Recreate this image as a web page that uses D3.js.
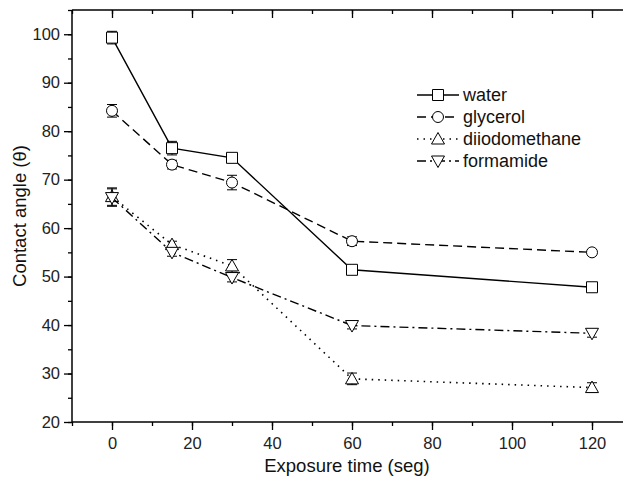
<!DOCTYPE html>
<html>
<head>
<meta charset="utf-8">
<script src="https://cdn.jsdelivr.net/npm/d3@7"></script>
<style>
  body { margin: 0; background: #fff; }
  svg { display: block; font-family: "Liberation Sans", Arial, sans-serif; }
</style>
</head>
<body>
<div id="chart"></div>
<script>
// Data
const times = [0, 15, 30, 60, 120];
const water = [99.3, 76.5, 74.5, 51.4, 47.8];
const waterErr = [1.3, 1.4, 0.9, 0.5, 0.9];
const glycerol = [84.2, 73.1, 69.4, 57.3, 55.0];
const glycerolErr = [1.3, 0.9, 1.5, 0.9, 0.6];
const diiodomethane = [66.5, 56.6, 52.2, 28.9, 27.1];
const diiodomethaneErr = [1.8, 0.7, 1.3, 1.2, 1.0];
const formamide = [66.3, 55.0, 49.8, 39.9, 38.3];
const formamideErr = [1.8, 0.8, 0.9, 0.7, 0.8];
const seriesNames = ["water", "glycerol", "diiodomethane", "formamide"];
const yTicks = [20, 30, 40, 50, 60, 70, 80, 90, 100];
const xTicks = [0, 20, 40, 60, 80, 100, 120];

const width = 623, height = 479;
const margin = {top: 10, right: 0, bottom: 57, left: 72};

const svg = d3.select("#chart").append("svg")
  .attr("width", width)
  .attr("height", height);

// Frame runs off the right edge in the original, so the domain goes past 120
const x = d3.scaleLinear().domain([-10, 127.75]).range([margin.left, width]);
const y = d3.scaleLinear().domain([20, 105]).range([height - margin.bottom, margin.top]);

const series = [
  {name: "water", values: water, err: waterErr, dash: null, symbol: "square"},
  {name: "glycerol", values: glycerol, err: glycerolErr, dash: "9,5", symbol: "circle"},
  {name: "diiodomethane", values: diiodomethane, err: diiodomethaneErr, dash: "1.5,5", symbol: "up"},
  {name: "formamide", values: formamide, err: formamideErr, dash: "9,4,2,4", symbol: "down"}
];

// Axes
const minorX = d3.range(-10, 128, 10);
const minorY = d3.range(20, 106, 5);

svg.append("g")
  .attr("transform", `translate(0,${y(20)})`)
  .call(d3.axisBottom(x).tickValues(minorX).tickSize(4).tickFormat(""))
  .call(g => g.select(".domain").remove());
svg.append("g")
  .attr("transform", `translate(0,${y(20)})`)
  .call(d3.axisBottom(x).tickValues(xTicks).tickSize(8).tickPadding(7))
  .call(g => g.select(".domain").remove());

svg.append("g")
  .attr("transform", `translate(${x(-10)},0)`)
  .call(d3.axisLeft(y).tickValues(minorY).tickSize(4).tickFormat(""))
  .call(g => g.select(".domain").remove());
svg.append("g")
  .attr("transform", `translate(${x(-10)},0)`)
  .call(d3.axisLeft(y).tickValues(yTicks).tickSize(8).tickPadding(4))
  .call(g => g.select(".domain").remove());

// top axis, ticks inward
svg.append("g")
  .attr("transform", `translate(0,${y(105)})`)
  .call(d3.axisBottom(x).tickValues(minorX).tickSize(4).tickFormat(""))
  .call(g => g.select(".domain").remove());
svg.append("g")
  .attr("transform", `translate(0,${y(105)})`)
  .call(d3.axisBottom(x).tickValues(xTicks).tickSize(8).tickFormat(""))
  .call(g => g.select(".domain").remove());

svg.selectAll(".tick line").attr("stroke", "#000").attr("stroke-width", 1.3);
svg.selectAll(".tick text").attr("font-size", 16.5).attr("fill", "#222")
  .attr("font-family", "Liberation Sans, Arial, sans-serif");

// frame lines
svg.append("line").attr("x1", x(-10)).attr("x2", width).attr("y1", y(20)).attr("y2", y(20))
  .attr("stroke", "#000").attr("stroke-width", 1.5);
svg.append("line").attr("x1", x(-10)).attr("x2", width).attr("y1", y(105)).attr("y2", y(105))
  .attr("stroke", "#000").attr("stroke-width", 1.5);
svg.append("line").attr("x1", x(-10)).attr("x2", x(-10)).attr("y1", y(20)).attr("y2", y(105))
  .attr("stroke", "#000").attr("stroke-width", 1.5);

// axis titles
svg.append("text")
  .attr("x", 347)
  .attr("y", height - 7)
  .attr("text-anchor", "middle")
  .attr("font-size", 18.5)
  .attr("fill", "#111")
  .text("Exposure time (seg)");

svg.append("text")
  .attr("transform", `translate(26,${y(62.5)}) rotate(-90)`)
  .attr("text-anchor", "middle")
  .attr("font-size", 18.5)
  .attr("fill", "#111")
  .text("Contact angle (θ)");

function drawSymbol(g, type, cx, cy) {
  const s = g.append("path")
    .attr("fill", "#fff")
    .attr("stroke", "#000")
    .attr("stroke-width", 1);
  if (type === "square") {
    s.attr("d", `M${cx - 5.5},${cy - 5.5}h11v11h-11Z`);
  } else if (type === "circle") {
    s.attr("d", d3.symbol(d3.symbolCircle, 95)()).attr("transform", `translate(${cx},${cy})`);
  } else if (type === "up") {
    s.attr("d", `M${cx},${cy - 6.5}L${cx + 6.5},${cy + 5}L${cx - 6.5},${cy + 5}Z`);
  } else {
    s.attr("d", `M${cx},${cy + 6.5}L${cx + 6.5},${cy - 5}L${cx - 6.5},${cy - 5}Z`);
  }
}

const line = d3.line().x(d => x(d[0])).y(d => y(d[1]));

series.forEach(s => {
  const pts = times.map((t, i) => [t, s.values[i], s.err[i]]);
  const g = svg.append("g");
  g.append("path")
    .datum(pts)
    .attr("d", line)
    .attr("fill", "none")
    .attr("stroke", "#000")
    .attr("stroke-width", s.dash === "1.5,5" ? 1.6 : 1.4)
    .attr("stroke-dasharray", s.dash);

  pts.forEach(p => {
    const cx = x(p[0]);
    const eg = g.append("g").attr("stroke", "#000").attr("stroke-width", 1);
    eg.append("line").attr("x1", cx).attr("x2", cx).attr("y1", y(p[1] + p[2])).attr("y2", y(p[1] - p[2]));
    eg.append("line").attr("x1", cx - 5).attr("x2", cx + 5).attr("y1", y(p[1] + p[2])).attr("y2", y(p[1] + p[2]));
    eg.append("line").attr("x1", cx - 5).attr("x2", cx + 5).attr("y1", y(p[1] - p[2])).attr("y2", y(p[1] - p[2]));
    drawSymbol(g, s.symbol, cx, y(p[1]));
  });
});

// legend
const legend = svg.append("g").attr("transform", "translate(417,95)");
series.forEach((s, i) => {
  const row = legend.append("g").attr("transform", `translate(0,${i * 22})`);
  row.append("line")
    .attr("x1", 0).attr("x2", 42).attr("y1", 0).attr("y2", 0)
    .attr("stroke", "#000")
    .attr("stroke-width", 1.4)
    .attr("stroke-dasharray", s.dash);
  drawSymbol(row, s.symbol, 21, 0);
  row.append("text")
    .attr("x", 46)
    .attr("y", 0)
    .attr("dy", "0.35em")
    .attr("font-size", 18)
    .attr("fill", "#111")
    .text(seriesNames[i]);
});
</script>
</body>
</html>
